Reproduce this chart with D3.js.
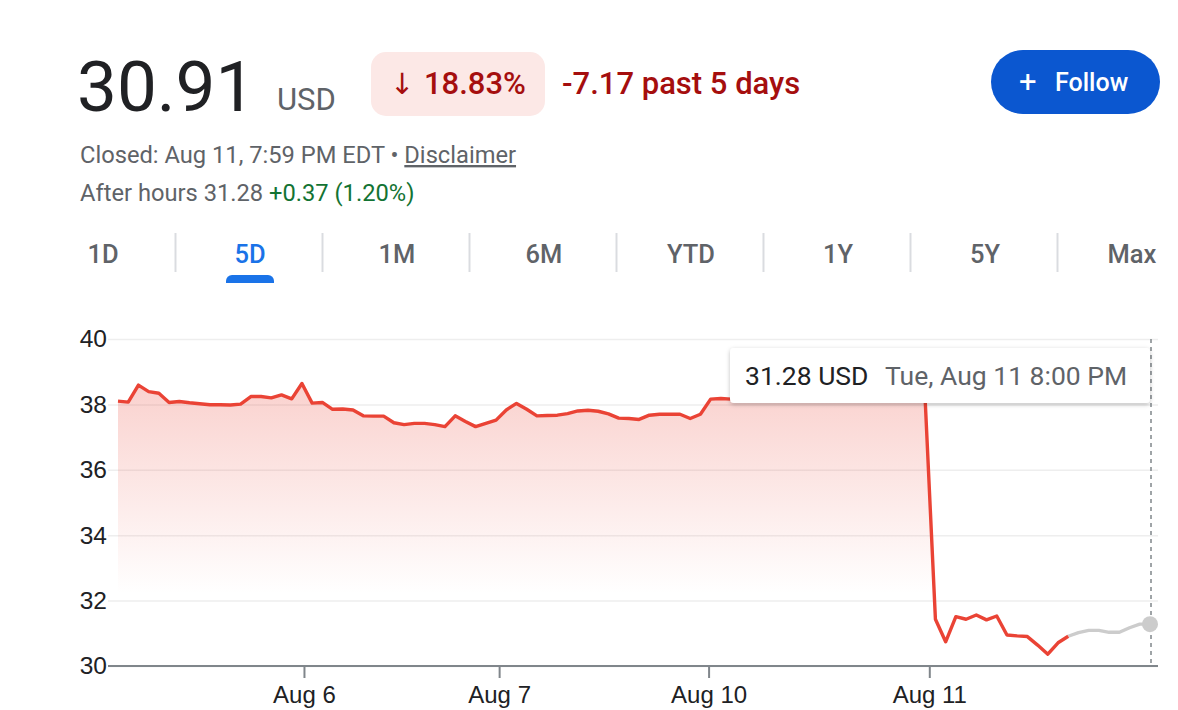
<!DOCTYPE html>
<html><head><meta charset="utf-8">
<script src="https://cdn.jsdelivr.net/npm/d3@7"></script>
<style>
html,body{margin:0;padding:0;background:#fff;}
svg{display:block;font-family:Roboto,"Noto Sans",Arial,sans-serif;}
</style></head>
<body>
<svg id="c" width="1178" height="710"></svg>
<script>
// ---- data ----
const regularValues = [
 38.10,38.07,38.59,38.39,38.34,38.06,38.09,38.05,38.02,37.99,
 37.99,37.98,38.01,38.24,38.24,38.20,38.29,38.17,38.64,38.04,
 38.06,37.85,37.86,37.83,37.65,37.64,37.64,37.44,37.38,37.42,
 37.42,37.38,37.32,37.65,37.48,37.32,37.42,37.52,37.83,38.03,
 37.85,37.65,37.66,37.67,37.72,37.80,37.82,37.79,37.71,37.58,
 37.57,37.54,37.67,37.70,37.70,37.70,37.57,37.70,38.16,38.18,
 38.16,38.17,38.15,38.20,38.22,38.18,38.15,38.12,38.20,38.25,
 38.22,38.18,38.20,38.16,38.14,38.18,38.20,38.17,38.15,38.12,
 31.43,30.74,31.51,31.43,31.56,31.41,31.53,30.95,30.92,30.90,
 30.64,30.36,30.71,30.91
];
const afterHoursValues = [30.91,31.02,31.09,31.09,31.03,31.03,31.17,31.28,31.28];
const yTicks = [30,32,34,36,38,40];
const xTickPos = [18.2,37.3,57.8,79.4];
const xTickLabels = ["Aug 6","Aug 7","Aug 10","Aug 11"];
const tabs = ["1D","5D","1M","6M","YTD","1Y","5Y","Max"];
const price = "30.91", currency = "USD";
const changePct = "18.83%", changeAbs = "-7.17 past 5 days";
const closedText = "Closed: Aug 11, 7:59 PM EDT • ";
const afterHoursText = "After hours 31.28 ", afterHoursChange = "+0.37 (1.20%)";
const tipValue = "31.28 USD", tipDate = "Tue, Aug 11 8:00 PM";

const svg = d3.select("#c");
const regular = regularValues.map((v,i)=>({i,v}));
const startAH = regularValues.length-1;
const after = afterHoursValues.map((v,k)=>({i:startAH+k,v}));
const lastIdx = startAH + afterHoursValues.length - 1;

// ---- header ----
svg.append("text").attr("x",77).attr("y",111).attr("font-size",71).attr("fill","#202124").text(price);
svg.append("text").attr("x",277).attr("y",110).attr("font-size",31).attr("fill","#5f6368").text(currency);
svg.append("rect").attr("x",371).attr("y",52).attr("width",174).attr("height",64).attr("rx",15).attr("fill","#fce8e6");
svg.append("text").attr("x",390).attr("y",94).attr("font-size",29).attr("fill","#a50e0e").attr("font-family","DejaVu Sans").text("↓");
svg.append("text").attr("x",424).attr("y",94).attr("font-size",31).attr("font-weight",500).attr("fill","#a50e0e").text(changePct);
svg.append("text").attr("x",562).attr("y",94).attr("font-size",31).attr("font-weight",500).attr("fill","#a50e0e").text(changeAbs);
svg.append("rect").attr("x",991).attr("y",50).attr("width",169).attr("height",64).attr("rx",32).attr("fill","#0b57d0");
svg.append("text").attr("x",1019).attr("y",92).attr("font-size",31).attr("fill","#fff").text("+");
svg.append("text").attr("x",1055).attr("y",91).attr("font-size",25).attr("font-weight",500).attr("fill","#fff").text("Follow");

const closed = svg.append("text").attr("x",80).attr("y",163).attr("font-size",23.7).attr("fill","#5f6368");
closed.append("tspan").text(closedText);
closed.append("tspan").attr("text-decoration","underline").text("Disclaimer");
const ah = svg.append("text").attr("x",80).attr("y",201).attr("font-size",23.7).attr("fill","#5f6368");
ah.append("tspan").text(afterHoursText);
ah.append("tspan").attr("fill","#137333").text(afterHoursChange);

// ---- tabs ----
const tabX = d3.scalePoint().domain(tabs).range([103,1132]);
tabs.forEach((t,k)=>{
  svg.append("text").attr("x",tabX(t)).attr("y",263).attr("text-anchor","middle")
    .attr("font-size",25.5).attr("font-weight",500)
    .attr("fill", t==="5D" ? "#1a73e8" : "#5f6368").text(t);
  if(k>0){
    const sx = (tabX(tabs[k-1])+tabX(t))/2 - 1;
    svg.append("line").attr("x1",sx).attr("x2",sx).attr("y1",233).attr("y2",272)
      .attr("stroke","#dadce0").attr("stroke-width",2);
  }
});
svg.append("path").attr("d",`M${tabX("5D")-24},283 v-2 a6,6 0 0 1 6,-6 h36 a6,6 0 0 1 6,6 v2 z`).attr("fill","#1a73e8");

// ---- chart ----
const x = d3.scaleLinear().domain([0,lastIdx]).range([118,1150]);
const y = d3.scaleLinear().domain([30,40]).range([666,339]);

const defs = svg.append("defs");
const g = defs.append("linearGradient").attr("id","fill").attr("gradientUnits","userSpaceOnUse")
  .attr("x1",0).attr("x2",0).attr("y1",y(40)).attr("y2",y(30));
g.append("stop").attr("offset",0).attr("stop-color","#ea4335").attr("stop-opacity",0.3);
g.append("stop").attr("offset",0.2).attr("stop-color","#ea4335").attr("stop-opacity",0.22);
g.append("stop").attr("offset",0.78).attr("stop-color","#ea4335").attr("stop-opacity",0);
const f = defs.append("filter").attr("id","sh").attr("x","-10%").attr("y","-30%").attr("width","120%").attr("height","170%");
f.append("feDropShadow").attr("dx",0).attr("dy",1.5).attr("stdDeviation",2).attr("flood-color","#000").attr("flood-opacity",0.25);

// gridlines + y labels
svg.append("g").attr("transform","translate(108,0)")
  .call(d3.axisLeft(y).tickValues(yTicks).tickSize(-1050).tickPadding(1).tickFormat(d3.format("d")))
  .call(a=>a.select(".domain").remove())
  .call(a=>a.selectAll(".tick line").attr("stroke","#eeeeee").attr("stroke-width",1.5))
  .call(a=>a.selectAll(".tick text").attr("font-size",24.5).attr("fill","#202124").attr("font-family",null));

// area
svg.append("path").datum(regular).attr("fill","url(#fill)")
  .attr("d",d3.area().x(d=>x(d.i)).y0(y(30)).y1(d=>y(d.v)));

// x axis
svg.append("g").attr("transform",`translate(0,${y(30)})`)
  .call(d3.axisBottom(x).tickValues(xTickPos).tickSize(12).tickPadding(8).tickFormat((d,k)=>xTickLabels[k]))
  .call(a=>a.select(".domain").attr("d","M108,0H1158").attr("stroke","#80868b").attr("stroke-width",2))
  .call(a=>a.selectAll(".tick line").attr("stroke","#80868b").attr("stroke-width",2))
  .call(a=>a.selectAll(".tick text").attr("font-size",24).attr("fill","#202124").attr("font-family",null));

// lines
const line = d3.line().x(d=>x(d.i)).y(d=>y(d.v));
svg.append("path").datum(after).attr("fill","none").attr("stroke","#cccccc").attr("stroke-width",3.4)
  .attr("stroke-linejoin","round").attr("d",line);
svg.append("path").datum(regular).attr("fill","none").attr("stroke","#ea4335").attr("stroke-width",3.4)
  .attr("stroke-linejoin","round").attr("d",line);

// hover marker
svg.append("line").attr("x1",x(lastIdx)+1).attr("x2",x(lastIdx)+1).attr("y1",y(40)).attr("y2",y(30))
  .attr("stroke","#80868b").attr("stroke-width",1.5).attr("stroke-dasharray","4 4");
svg.append("circle").attr("cx",x(lastIdx)).attr("cy",y(afterHoursValues[afterHoursValues.length-1])).attr("r",8).attr("fill","#cccccc");

// tooltip
svg.append("rect").attr("x",730).attr("y",348).attr("width",420).attr("height",55).attr("rx",4)
  .attr("fill","#fff").attr("filter","url(#sh)");
svg.append("text").attr("x",745).attr("y",385).attr("font-size",26.5).attr("fill","#202124").text(tipValue);
svg.append("text").attr("x",885).attr("y",385).attr("font-size",26.5).attr("fill","#5f6368").text(tipDate);
</script>
</body></html>
